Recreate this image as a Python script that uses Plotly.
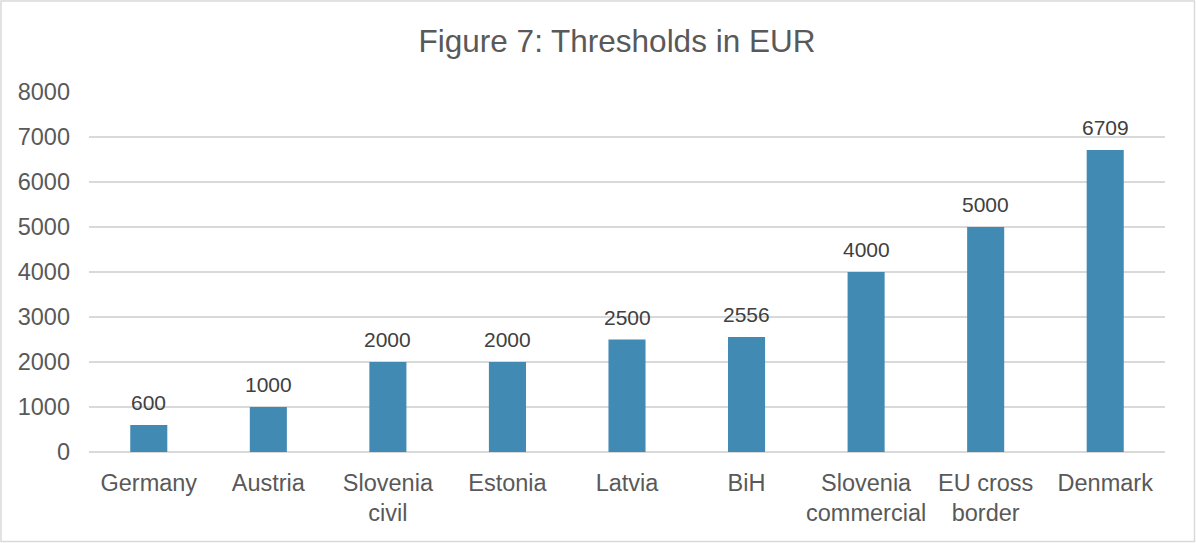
import plotly.graph_objects as go

categories = ["Germany", "Austria", "Slovenia<br>civil", "Estonia", "Latvia", "BiH",
              "Slovenia<br>commercial", "EU cross<br>border", "Denmark"]
values = [600, 1000, 2000, 2000, 2500, 2556, 4000, 5000, 6709]
yticks = [0, 1000, 2000, 3000, 4000, 5000, 6000, 7000, 8000]

W, H = 1196, 543
ml, mr, mt, mb = 89, 31, 92, 91
pw, ph = W - ml - mr, H - mt - mb
FONT = "Liberation Sans, Arial"

fig = go.Figure(go.Bar(
    x=categories, y=values, marker_color="#418ab3",
    marker_line_width=0, hoverinfo="x+y",
))
for c, v in zip(categories, values):
    fig.add_annotation(x=c, y=v, text=str(v), showarrow=False,
                       xanchor="center", yanchor="bottom", yshift=9,
                       font=dict(family=FONT, size=21, color="#404040"))
fig.update_layout(
    width=W, height=H,
    margin=dict(l=ml, r=mr, t=mt, b=mb),
    plot_bgcolor="white", paper_bgcolor="white",
    bargap=0.69,
    showlegend=False,
    title=dict(text="Figure 7: Thresholds in EUR", xref="container", x=617 / W,
               xanchor="center", y=1 - 41 / H, yanchor="middle",
               font=dict(family=FONT, size=31.5, color="#595959")),
    font=dict(family=FONT, color="#595959"),
    xaxis=dict(tickfont=dict(size=23.5, color="#595959"), showgrid=False,
               showline=False, ticks="", ticklabelstandoff=14),
    yaxis=dict(range=[0, 8000], tickvals=yticks, tickfont=dict(size=23.5, color="#595959"),
               showgrid=True, gridcolor="#d9d9d9", gridwidth=1.5, zeroline=True,
               zerolinecolor="#d9d9d9", zerolinewidth=1.5, showline=False,
               ticks="", ticklabelstandoff=18),
    shapes=[dict(type="rect", xref="paper", yref="paper",
                 x0=-(ml - 1) / pw, x1=1 + (mr - 1.5) / pw,
                 y0=-(mb - 1.5) / ph, y1=1 + (mt - 1) / ph,
                 line=dict(color="#d9d9d9", width=1.5), layer="below")],
)
fig.write_html("out.html", config={"displayModeBar": False},
               post_script="document.body.style.margin='0';document.body.style.overflow='hidden';")
